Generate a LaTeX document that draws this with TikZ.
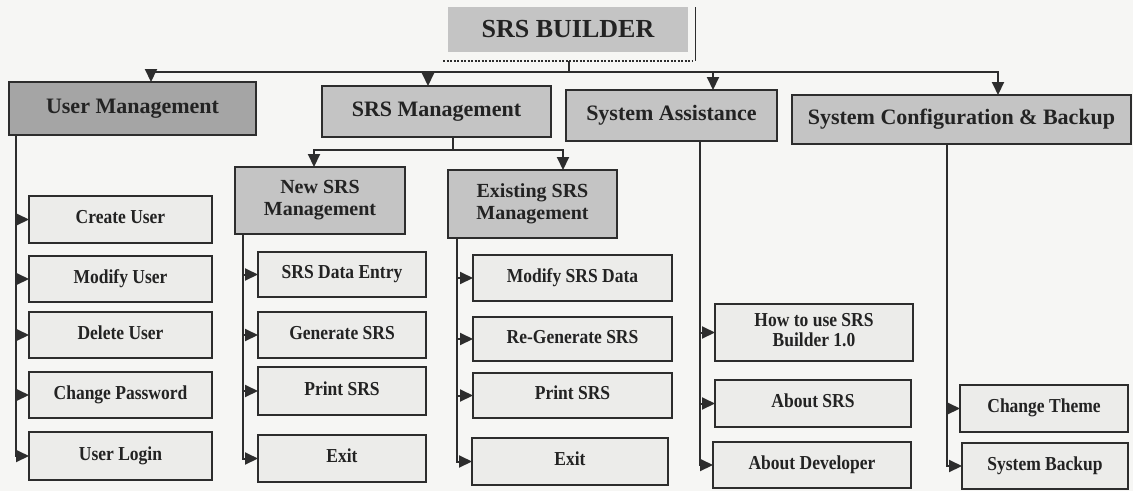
\documentclass[tikz,border=0pt]{standalone}
\usepackage{fontspec}
\usepackage{graphicx}
\setmainfont{Liberation Serif}
\usetikzlibrary{arrows.meta}
\definecolor{bgc}{RGB}{246,246,244}
\definecolor{linec}{RGB}{45,45,45}
\definecolor{txtc}{RGB}{35,35,35}
\definecolor{darkfill}{RGB}{165,165,165}
\definecolor{midfill}{RGB}{196,196,196}
\definecolor{leaffill}{RGB}{236,236,234}
\newcommand\mybox[7]{%
  \pgfmathsetmacro\mybxw{#5-#3}%
  \pgfmathsetmacro\mybxh{#6-#4}%
  \node[#2, minimum width=\mybxw pt, minimum height=\mybxh pt] (#1) at ({(#3+#5)/2},{(#4+#6)/2}) {#7};}
\newcommand\ystr[1]{\scalebox{1}[1.13]{\begin{tabular}{@{}c@{}}#1\end{tabular}}}
\begin{document}
\begin{tikzpicture}[x=1pt,y=-1pt,
  base/.style={draw=linec, text=txtc, line width=1.5pt, outer sep=0pt, inner sep=2pt, align=center},
  rootbox/.style={base, draw=none, fill=midfill, font=\bfseries\fontsize{26}{30}\selectfont},
  topdark/.style={base, fill=darkfill, font=\bfseries\fontsize{22}{26}\selectfont},
  topbox/.style={base, fill=midfill, font=\bfseries\fontsize{22}{26}\selectfont},
  subbox/.style={base, fill=midfill, font=\bfseries\fontsize{20}{22}\selectfont},
  leaf/.style={base, fill=leaffill, font=\bfseries\fontsize{17.5}{18}\selectfont},
  conn/.style={draw=linec, line width=2pt},
  arr/.style={conn, -{Triangle[length=13pt,width=12pt]}}]
\fill[bgc] (0,0) rectangle (1133,491);
\useasboundingbox (0,0) rectangle (1133,491);

% root
\mybox{root}{rootbox}{448}{7}{688}{52}{SRS BUILDER}
\draw[linec, line width=2.2pt, dash pattern=on 2pt off 1.5pt] (443,61) -- (693,61);
\draw[linec, line width=0.8pt] (695,7) -- (695,61);
\coordinate (rb) at (569,61);

% level 1
\mybox{um}{topdark}{9}{82}{256}{135}{User Management}
\mybox{sm}{topbox}{322}{86}{551}{137}{SRS Management}
\mybox{sa}{topbox}{566}{90}{777}{141}{System Assistance}
\mybox{sc}{topbox}{792}{95}{1131}{144}{System Configuration \& Backup}

% level 2
\mybox{nsm}{subbox}{235}{167}{405}{234}{New SRS\\Management}
\mybox{esm}{subbox}{448}{170}{617}{238}{Existing SRS\\Management}

% leaves: user management
\mybox{cu}{leaf}{29}{196}{212}{243}{\ystr{Create User}}
\mybox{mu}{leaf}{29}{256}{212}{302}{\ystr{Modify User}}
\mybox{du}{leaf}{29}{312}{212}{358}{\ystr{Delete User}}
\mybox{cp}{leaf}{29}{372}{212}{418}{\ystr{Change Password}}
\mybox{ul}{leaf}{29}{432}{212}{480}{\ystr{User Login}}
% new srs
\mybox{sde}{leaf}{258}{252}{426}{297}{\ystr{SRS Data Entry}}
\mybox{gs}{leaf}{258}{312}{426}{358}{\ystr{Generate SRS}}
\mybox{psa}{leaf}{258}{367}{426}{415}{\ystr{Print SRS}}
\mybox{exa}{leaf}{258}{435}{426}{482}{\ystr{Exit}}
% existing srs
\mybox{msd}{leaf}{473}{255}{672}{301}{\ystr{Modify SRS Data}}
\mybox{rgs}{leaf}{473}{317}{672}{361}{\ystr{Re-Generate SRS}}
\mybox{psb}{leaf}{473}{373}{672}{418}{\ystr{Print SRS}}
\mybox{exb}{leaf}{472}{438}{668}{485}{\ystr{Exit}}
% system assistance
\mybox{how}{leaf}{715}{304}{913}{361}{\ystr{How to use SRS\\Builder 1.0}}
\mybox{asr}{leaf}{715}{380}{911}{427}{\ystr{About SRS}}
\mybox{adv}{leaf}{713}{442}{911}{488}{\ystr{About Developer}}
% system configuration
\mybox{ct}{leaf}{960}{385}{1128}{432}{\ystr{Change Theme}}
\mybox{sb}{leaf}{962}{443}{1128}{489}{\ystr{System Backup}}

% top bus
\coordinate (busL) at (151,72);
\coordinate (busR) at (998,72);
\coordinate (bsm) at (428,72);
\coordinate (bsa) at (713,72);
\draw[conn] (rb) -- (rb |- busL);
\draw[arr] (rb |- busL) -- (busL) -- (busL |- um.north);
\draw[arr] (rb |- busL) -- (busR) -- (busR |- sc.north);
\draw[arr] (bsm) -- (bsm |- sm.north);
\draw[arr] (bsa) -- (bsa |- sa.north);

% SRS management sub-bus
\coordinate (sbs) at (453,150);
\coordinate (sbL) at (314,150);
\coordinate (sbR) at (563,150);
\draw[conn] (sm.south -| sbs) -- (sbs);
\draw[arr] (sbs) -- (sbL) -- (sbL |- nsm.north);
\draw[arr] (sbs) -- (sbR) -- (sbR |- esm.north);

% user management column
\coordinate (uv) at (16,0);
\draw[arr] (um.south -| uv) -- (uv |- ul.west) -- (ul.west);
\foreach \n in {cu,mu,du,cp} \draw[arr] (uv |- \n.west) -- (\n.west);

% new srs column
\coordinate (nv) at (243,0);
\draw[arr] (nsm.south -| nv) -- (nv |- exa.west) -- (exa.west);
\foreach \n in {sde,gs,psa} \draw[arr] (nv |- \n.west) -- (\n.west);

% existing srs column
\coordinate (ev) at (457,0);
\draw[arr] (esm.south -| ev) -- (ev |- exb.west) -- (exb.west);
\foreach \n in {msd,rgs,psb} \draw[arr] (ev |- \n.west) -- (\n.west);

% system assistance column
\coordinate (av) at (700,0);
\draw[arr] (sa.south -| av) -- (av |- adv.west) -- (adv.west);
\foreach \n in {how,asr} \draw[arr] (av |- \n.west) -- (\n.west);

% system configuration column
\coordinate (cv) at (947,0);
\draw[arr] (sc.south -| cv) -- (cv |- sb.west) -- (sb.west);
\draw[arr] (cv |- ct.west) -- (ct.west);
\end{tikzpicture}
\end{document}
